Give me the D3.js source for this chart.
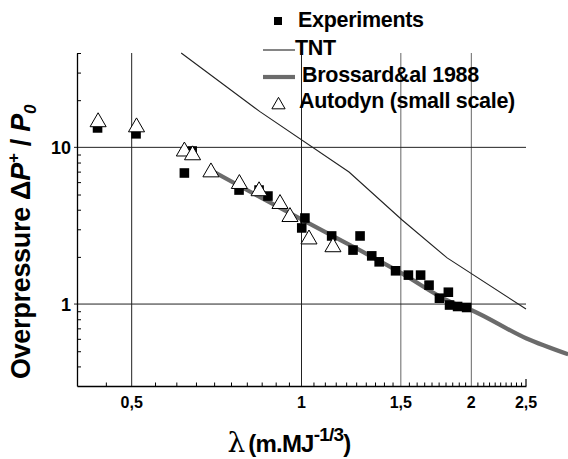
<!DOCTYPE html>
<html><head><meta charset="utf-8">
<script src="https://cdn.jsdelivr.net/npm/d3@7"></script>
<style>
body{margin:0;background:#fff}
svg{display:block}
text{font-family:"Liberation Sans",Arial,sans-serif;font-weight:bold;fill:#000}
</style>
</head><body>
<svg id="c" width="568" height="459"></svg>
<script>
// ---- data ----
const expX = [0.435,0.509,0.62,0.64,0.775,0.841,0.872,1.014,1.001,1.131,1.27,1.234,1.332,1.373,1.468,1.547,1.626,1.683,1.821,1.756,1.83,1.891,1.962];
const expY = [13.3,12.2,6.86,9.48,5.34,5.34,4.89,3.54,3.06,2.72,2.72,2.21,2.03,1.86,1.63,1.53,1.53,1.32,1.19,1.09,0.986,0.965,0.951];
const autoX = [0.436,0.510,0.620,0.641,0.691,0.776,0.841,0.916,0.954,1.031,1.137];
const autoY = [14.5,13.45,9.43,8.92,6.94,5.85,5.26,4.36,3.60,2.59,2.31];
const tntX = [0.612,0.844,1.214,1.508,1.812,2.5];
const tntY = [40,16.9,6.96,3.44,1.97,0.93];
const broX = [0.694,0.811,1.0,1.219,1.506,1.834,1.998,2.5,2.97];
const broY = [7.07,5.21,3.47,2.38,1.57,1.035,0.917,0.605,0.478];
const xGrid = [0.5,1,1.5,2];
const xLabelVals = [0.5,1,1.5,2,2.5];
const xLabels = ["0,5","1","1,5","2","2,5"];
const yGrid = [1,10];
const yLabels = ["1","10"];
const yMinor = [0.4,0.5,0.6,0.7,0.8,0.9,2,3,4,5,6,7,8,9,20,30,40];
const legendNames = ["Experiments","TNT","Brossard&al 1988","Autodyn (small scale)"];

// ---- scales ----
const x = d3.scaleLog().domain([0.4,2.5]).range([77,526]);
const y = d3.scaleLog().domain([0.3,40]).range([386,53]);
const svg = d3.select("#c");

// minor x ticks every 0.05
const xMinor = d3.range(9,50).map(i=>i*0.05).filter(v=>v>0.41 && v<2.49 && !xGrid.some(g=>Math.abs(g-v)<1e-6));

// gridlines
svg.append("g").selectAll("line").data(xGrid).join("line")
  .attr("x1",d=>x(d)).attr("x2",d=>x(d)).attr("y1",y(40)).attr("y2",y(0.3))
  .attr("stroke",d=>d>1.2?"#666":"#222").attr("stroke-width",1);
svg.append("g").selectAll("line").data(yGrid).join("line")
  .attr("x1",x(0.4)-3).attr("x2",x(2.5)).attr("y1",d=>y(d)).attr("y2",d=>y(d))
  .attr("stroke","#222").attr("stroke-width",1);

// axes
const gx = svg.append("g").attr("transform",`translate(0,${y(0.3)})`)
  .call(d3.axisBottom(x).tickValues(xMinor).tickSize(-3.5).tickSizeOuter(0).tickFormat(""));
gx.select(".domain").attr("stroke","#000").attr("stroke-width",1.3);
gx.selectAll(".tick line").attr("stroke","#000");
svg.append("line").attr("x1",x(2.5)).attr("x2",x(2.5)).attr("y1",y(0.3)).attr("y2",y(0.3)-7).attr("stroke","#000").attr("stroke-width",1.2);

const gy = svg.append("g").attr("transform",`translate(${x(0.4)},0)`)
  .call(d3.axisLeft(y).tickValues(yMinor).tickSize(-4).tickSizeOuter(0).tickFormat(""));
gy.select(".domain").attr("stroke","#000").attr("stroke-width",1.3);
gy.selectAll(".tick line").attr("stroke","#000");

// tick labels
svg.append("g").selectAll("text").data(xLabelVals).join("text")
  .attr("x",d=>x(d)).attr("y",408).attr("text-anchor","middle")
  .attr("font-size",16).text((d,i)=>xLabels[i]);
svg.append("g").selectAll("text").data(yGrid).join("text")
  .attr("x",x(0.4)-6).attr("y",d=>y(d)+6.5).attr("text-anchor","end")
  .attr("font-size",18).text((d,i)=>yLabels[i]);

// TNT line
const tnt = tntX.map((v,i)=>[v,tntY[i]]);
svg.append("path").datum(tnt)
  .attr("d",d3.line().x(d=>x(d[0])).y(d=>y(d[1])))
  .attr("fill","none").attr("stroke","#222").attr("stroke-width",1.1);

// Brossard line
const bro = broX.map((v,i)=>[v,broY[i]]);
svg.append("path").datum(bro)
  .attr("d",d3.line().curve(d3.curveMonotoneX).x(d=>x(d[0])).y(d=>y(d[1])))
  .attr("fill","none").attr("stroke","#6b6b6b").attr("stroke-width",4.2);

// experiments squares
const sq = d3.symbol().type(d3.symbolSquare).size(92);
svg.append("g").selectAll("path").data(expX.map((v,i)=>[v,expY[i]])).join("path")
  .attr("d",sq).attr("transform",d=>`translate(${x(d[0])},${y(d[1])})`)
  .attr("fill","#000");

// autodyn triangles
const tri = d3.symbol().type(d3.symbolTriangle).size(112);
svg.append("g").selectAll("path").data(autoX.map((v,i)=>[v,autoY[i]])).join("path")
  .attr("d",tri).attr("transform",d=>`translate(${x(d[0])},${y(d[1])})`)
  .attr("fill","#fff").attr("stroke","#000").attr("stroke-width",1);

// legend
const lg = svg.append("g");
lg.append("path").attr("d",d3.symbol().type(d3.symbolSquare).size(64)).attr("transform","translate(278,21)").attr("fill","#000");
lg.append("line").attr("x1",263).attr("x2",295).attr("y1",50).attr("y2",50).attr("stroke","#222").attr("stroke-width",1.1);
lg.append("line").attr("x1",263).attr("x2",295).attr("y1",77).attr("y2",77).attr("stroke","#6b6b6b").attr("stroke-width",4.2);
lg.append("path").attr("d",d3.symbol().type(d3.symbolTriangle).size(76)).attr("transform","translate(278.5,105)").attr("fill","#fff").attr("stroke","#000").attr("stroke-width",1);
const lgX = [298,295,302,299], lgY = [27,55,82,108];
lg.selectAll("text.l").data(legendNames).join("text").attr("class","l")
  .attr("x",(d,i)=>lgX[i]).attr("y",(d,i)=>lgY[i]).attr("font-size",21.5).attr("letter-spacing",-0.3)
  .text(d=>d);

// x title
const xt = svg.append("text").attr("x",289).attr("y",452).attr("text-anchor","middle").attr("font-size",24).attr("letter-spacing",-0.8);
xt.append("tspan").attr("font-family","DejaVu Serif").attr("font-weight","normal").attr("font-size",28).attr("letter-spacing",0).text("λ");
xt.append("tspan").attr("dx",3).text("(m.MJ");
xt.append("tspan").attr("dy",-11).attr("font-size",19).text("-1/3");
xt.append("tspan").attr("dy",11).text(")");

// y title
const yt = svg.append("text").attr("transform","translate(30,242) rotate(-90)").attr("text-anchor","middle").attr("font-size",27).attr("letter-spacing",-0.3);
yt.append("tspan").text("Overpressure ");
yt.append("tspan").text("Δ");
yt.append("tspan").attr("font-style","italic").text("P");
yt.append("tspan").attr("dy",-11).attr("font-size",17).text("+");
yt.append("tspan").attr("dy",11).text(" / ");
yt.append("tspan").attr("font-style","italic").text("P");
yt.append("tspan").attr("dy",6).attr("font-size",17).attr("font-style","italic").text("0");
</script>
</body></html>
